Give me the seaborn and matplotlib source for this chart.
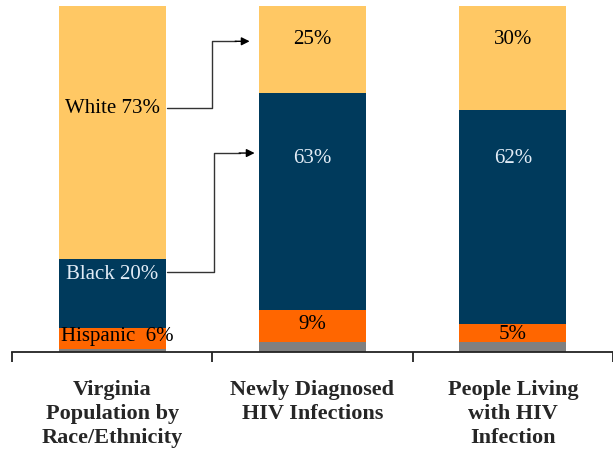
import matplotlib
matplotlib.use("Agg")
import matplotlib.pyplot as plt
import seaborn as sns
import pandas as pd
import numpy as np

# data
groups = ["Virginia\nPopulation by\nRace/Ethnicity",
          "Newly Diagnosed\nHIV Infections",
          "People Living\nwith HIV\nInfection"]
other = [1, 3, 3]
hispanic = [6, 9, 5]
black = [20, 63, 62]
white = [73, 25, 30]

seg_names = ["White", "Black", "Hispanic", "Other"]
seg_colors = ["#FFC864", "#003A5C", "#FF6600", "#808080"]

sns.set_style("white")
plt.rcParams["font.family"] = ["Liberation Serif", "DejaVu Serif"]

df = pd.DataFrame({"group": groups, "Other": other, "Hispanic": hispanic,
                   "Black": black, "White": white})
# cumulative tops, bottom segment first
df["Other_top"] = df["Other"]
df["Hispanic_top"] = df["Other_top"] + df["Hispanic"]
df["Black_top"] = df["Hispanic_top"] + df["Black"]
df["White_top"] = df["Black_top"] + df["White"]

fig = plt.figure(figsize=(6.13, 4.54), dpi=100)
ax = fig.add_axes([12 / 613, 102 / 454, 601 / 613, 346 / 454])

for name, col in zip(seg_names, seg_colors):
    sns.barplot(data=df, x="group", y=name + "_top", color=col, width=0.535,
                saturation=1, ax=ax, edgecolor="none", linewidth=0)

ax.set_xlim(-0.5, 2.5)
ax.set_ylim(0, 100)
ax.set_xlabel("")
ax.set_ylabel("")
ax.set_yticks([])
for s in ["top", "right", "left"]:
    ax.spines[s].set_visible(False)
ax.spines["bottom"].set_color("#222222")
ax.spines["bottom"].set_linewidth(1.3)

# boundary ticks (major) and category labels (minor)
ax.set_xticks([-0.5, 0.5, 1.5, 2.5], ["", "", "", ""])
ax.tick_params(axis="x", which="major", direction="out", length=7, width=1.3,
               color="#222222", bottom=True)
ax.set_xticks([0, 1, 2], groups, minor=True)
ax.tick_params(axis="x", which="minor", length=0, pad=20, labelsize=16)
for lab in ax.get_xticklabels(minor=True):
    lab.set_fontweight("bold")
    lab.set_linespacing(1.27)
    lab.set_verticalalignment("top")

light = "#E2ECF6"
fs = 15
# segment labels
ax.text(0, 70.5, "White 73%", ha="center", va="center", fontsize=fs, color="black")
ax.text(0, 22.3, "Black 20%", ha="center", va="center", fontsize=fs, color=light)
ax.text(0.025, 4.5, "Hispanic  6%", ha="center", va="center", fontsize=fs, color="black")
ax.text(1, 90.3, f"{white[1]}%", ha="center", va="center", fontsize=fs, color="black")
ax.text(1, 56, f"{black[1]}%", ha="center", va="center", fontsize=fs, color=light)
ax.text(1, 8.0, f"{hispanic[1]}%", ha="center", va="center", fontsize=fs, color="black")
ax.text(2, 90.3, f"{white[2]}%", ha="center", va="center", fontsize=fs, color="black")
ax.text(2, 56, f"{black[2]}%", ha="center", va="center", fontsize=fs, color=light)
ax.text(2, 5.2, f"{hispanic[2]}%", ha="center", va="center", fontsize=fs, color="black")

# elbow arrows
ax.plot([0.275, 0.5, 0.5, 0.62], [70.5, 70.5, 89.8, 89.8], color="#333333", lw=1)
ax.annotate("", xy=(0.7, 89.8), xytext=(0.6, 89.8),
            arrowprops=dict(arrowstyle="-|>", color="black", lw=1, mutation_scale=12))
ax.plot([0.275, 0.51, 0.51, 0.64], [23.0, 23.0, 57.5, 57.5], color="#333333", lw=1)
ax.annotate("", xy=(0.725, 57.5), xytext=(0.62, 57.5),
            arrowprops=dict(arrowstyle="-|>", color="black", lw=1, mutation_scale=12))

plt.savefig("out.png", dpi=100)
plt.close()
